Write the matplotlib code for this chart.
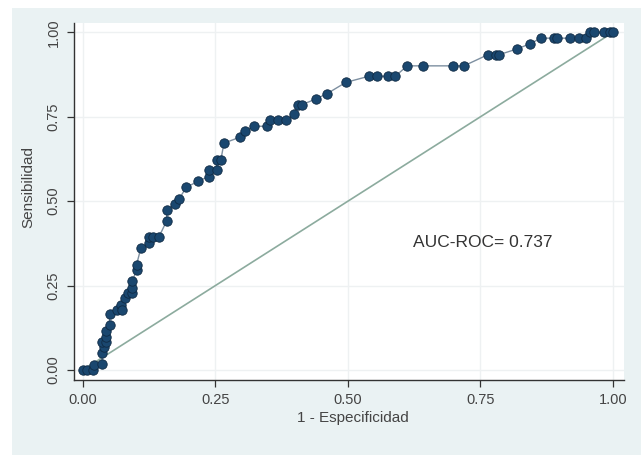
import matplotlib
matplotlib.use('Agg')
import matplotlib.pyplot as plt
from matplotlib.patches import Rectangle

plt.rcParams['font.family'] = ['Liberation Sans', 'DejaVu Sans']

# ROC points (1 - especificidad, sensibilidad)
fpr = [0.000, 0.008, 0.019, 0.021, 0.036, 0.036, 0.039, 0.036, 0.044, 0.044,
       0.044, 0.050, 0.050, 0.064, 0.072, 0.074, 0.080, 0.085, 0.093, 0.093,
       0.093, 0.101, 0.101, 0.109, 0.124, 0.124, 0.132, 0.143, 0.158, 0.158,
       0.174, 0.181, 0.195, 0.217, 0.238, 0.238, 0.252, 0.252, 0.260, 0.266,
       0.297, 0.305, 0.323, 0.347, 0.353, 0.368, 0.384, 0.398, 0.405, 0.413,
       0.440, 0.461, 0.496, 0.539, 0.554, 0.576, 0.589, 0.612, 0.641, 0.698,
       0.719, 0.764, 0.779, 0.785, 0.819, 0.843, 0.864, 0.888, 0.894, 0.920,
       0.936, 0.950, 0.956, 0.965, 0.984, 0.994, 1.000]
tpr = [0.000, 0.000, 0.000, 0.015, 0.017, 0.051, 0.069, 0.084, 0.084, 0.097,
       0.114, 0.133, 0.165, 0.178, 0.193, 0.178, 0.212, 0.227, 0.227, 0.242,
       0.262, 0.296, 0.311, 0.360, 0.375, 0.393, 0.393, 0.393, 0.442, 0.474,
       0.492, 0.506, 0.541, 0.559, 0.573, 0.591, 0.591, 0.621, 0.621, 0.672,
       0.690, 0.707, 0.722, 0.722, 0.740, 0.740, 0.740, 0.757, 0.786, 0.786,
       0.803, 0.819, 0.852, 0.870, 0.870, 0.870, 0.870, 0.901, 0.901, 0.901,
       0.901, 0.934, 0.934, 0.934, 0.951, 0.966, 0.983, 0.983, 0.983, 0.983,
       0.983, 0.983, 1.000, 1.000, 1.000, 1.000, 1.000]

ref_line = [0, 1]
ticks = [0.0, 0.25, 0.5, 0.75, 1.0]
tick_labels = ['0.00', '0.25', '0.50', '0.75', '1.00']
auc_text = 'AUC-ROC= 0.737'

W, H = 641, 455
fig = plt.figure(figsize=(W / 100, H / 100), dpi=100)
fig.patch.set_facecolor('white')
fig.patches.append(Rectangle((12 / W, 0), 1 - 12 / W, 1 - 8 / H, transform=fig.transFigure,
                             facecolor='#eaf2f3', edgecolor='none', zorder=-1))

ax = fig.add_axes([74 / W, 1 - 380 / H, 550 / W, 357 / H])
ax.set_facecolor('white')

ax.plot(ref_line, ref_line, color='#8cab9e', lw=1.2, zorder=2)
ax.plot(fpr, tpr, color='#7d8fa0', lw=1.0, zorder=3)
ax.scatter(fpr, tpr, s=46, color='#1a476f', edgecolor='#0f2a44', linewidth=0.6, zorder=4)

ax.set_xlim(-0.017, 1.021)
ax.set_ylim(-0.03, 1.028)
ax.set_xticks(ticks)
ax.set_xticklabels(tick_labels)
ax.set_yticks(ticks)
ax.set_yticklabels(tick_labels, rotation=90, va='center')
ax.grid(True, color='#eef1f2', lw=1.0, zorder=0)
ax.set_axisbelow(True)

for s in ['top', 'right']:
    ax.spines[s].set_visible(False)
for s in ['left', 'bottom']:
    ax.spines[s].set_color('#333333')
    ax.spines[s].set_linewidth(1.0)
ax.tick_params(colors='#333333', labelsize=10.5, length=5, width=0.9, pad=4.5)
ax.tick_params(labelcolor='#444444')

ax.set_xlabel('1 - Especificidad', fontsize=11, color='#444444')
ax.set_ylabel('Sensibilidad', fontsize=11, color='#444444')
ax.xaxis.set_label_coords((353 - 74) / 550, -(418 - 380) / 357)
ax.yaxis.set_label_coords((28 - 74) / 550, (380 - 187) / 357)
ax.xaxis.label.set_va('center')
ax.yaxis.label.set_va('center')

ax.text(0.623, 0.377, auc_text, fontsize=12.5, color='#333333', va='center', ha='left')

fig.savefig('out.png', dpi=100)
